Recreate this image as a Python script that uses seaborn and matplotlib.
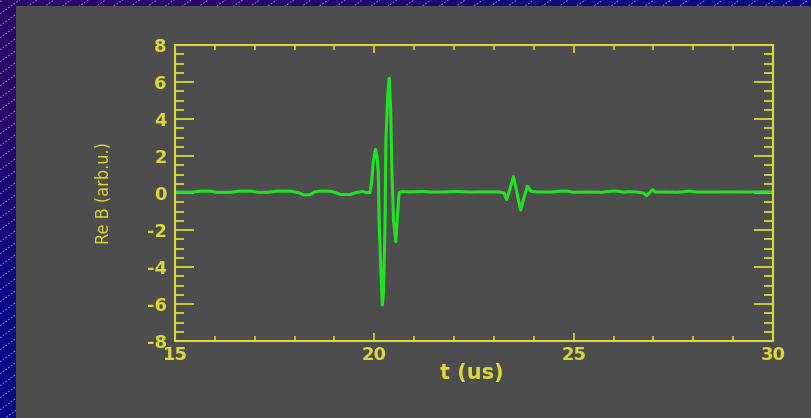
import numpy as np
import pandas as pd
import matplotlib
matplotlib.use("Agg")
import matplotlib.pyplot as plt
from matplotlib import font_manager
from matplotlib.patches import Rectangle
from matplotlib.ticker import MultipleLocator
import seaborn as sns

# Time axis (microseconds) and real part of the field (arbitrary units)
t_us = [
    15.00, 15.40, 15.65, 15.90, 16.05, 16.40, 16.60, 16.90, 17.10, 17.35,
    17.55, 17.90, 18.10, 18.22, 18.38, 18.50, 18.60, 18.90, 19.05, 19.15,
    19.40, 19.55, 19.70, 19.81, 19.89, 19.93, 19.97, 20.03, 20.07, 20.10,
    20.12, 20.16, 20.20, 20.23, 20.27, 20.29, 20.34, 20.375, 20.41, 20.44,
    20.48, 20.54, 20.58, 20.62, 20.69, 20.90, 21.20, 21.50, 21.80, 22.10,
    22.40, 22.70, 23.00, 23.15, 23.25, 23.32, 23.40, 23.49, 23.58, 23.67,
    23.76, 23.84, 23.93, 24.03, 24.40, 24.70, 24.85, 25.00, 25.40, 25.70,
    25.98, 26.10, 26.25, 26.40, 26.60, 26.75, 26.83, 26.92, 26.98, 27.05,
    27.30, 27.60, 27.90, 28.10, 28.50, 28.90, 29.30, 29.70, 30.00,
]
re_b = [
    0.05, 0.04, 0.10, 0.10, 0.03, 0.04, 0.10, 0.10, 0.03, 0.04,
    0.10, 0.10, 0.02, -0.10, -0.10, 0.05, 0.10, 0.10, 0.00, -0.08,
    -0.08, 0.03, 0.08, 0.02, 0.03, 0.52, 1.60, 2.36, 1.96, 1.06,
    -1.46, -3.98, -6.05, -5.42, -1.46, 2.86, 5.39, 6.20, 4.49, 1.24,
    -1.46, -2.63, -1.28, 0.00, 0.08, 0.06, 0.08, 0.05, 0.06, 0.08,
    0.05, 0.06, 0.06, 0.05, 0.00, -0.35, 0.20, 0.88, 0.00, -0.92,
    -0.20, 0.37, 0.10, 0.06, 0.05, 0.10, 0.10, 0.04, 0.05, 0.04,
    0.10, 0.10, 0.05, 0.07, 0.05, 0.00, -0.15, 0.05, 0.18, 0.05,
    0.05, 0.04, 0.10, 0.05, 0.05, 0.06, 0.05, 0.06, 0.06,
]
x_ticks = [15, 20, 25, 30]
y_ticks = [-8, -6, -4, -2, 0, 2, 4, 6, 8]

df = pd.DataFrame({"t": t_us, "reb": re_b})

YELLOW = "#d8d83a"
GREEN = "#22e322"
PANEL = "#4d4d4d"

sns.set_theme(style="ticks")
plt.rcParams["font.family"] = ["DejaVu Sans"]
plt.rcParams["axes.unicode_minus"] = False

W, H = 811, 418
fig = plt.figure(figsize=(W / 100, H / 100), dpi=100)

# Slide-style backdrop: purple-blue gradient with thin diagonal rules
bg = fig.add_axes([0, 0, 1, 1], zorder=-10)
bg.set_xlim(0, W)
bg.set_ylim(0, H)
bg.axis("off")
grad = np.array([
    [[42, 8, 104], [16, 10, 128]],
    [[10, 8, 132], [10, 8, 132]],
], dtype=float) / 255.0
bg.imshow(grad, extent=[0, W, 0, H], aspect="auto", interpolation="bilinear",
          origin="upper", zorder=0)
xs = np.array([0, W])
for c in np.arange(-0.7 * W, H + 12, 12):
    bg.plot(xs, 0.7 * xs + c, color="#a894ee", lw=0.7, alpha=0.75,
            ls=(0, (2.0, 1.4)), zorder=1)
bg.add_patch(Rectangle((16, 0), W - 16, H - 6, facecolor=PANEL,
                       edgecolor="none", zorder=2))

# Plot area
ax = fig.add_axes([175 / W, 77 / H, 598 / W, 296 / H])
ax.set_facecolor(PANEL)
sns.lineplot(data=df, x="t", y="reb", ax=ax, color=GREEN, lw=2.2,
             estimator=None, sort=False)

ax.set_xlim(15, 30)
ax.set_ylim(-8, 8)
ax.set_xticks(x_ticks)
ax.set_yticks(y_ticks)
ax.xaxis.set_minor_locator(MultipleLocator(1))
ax.yaxis.set_minor_locator(MultipleLocator(0.5))

for s in ax.spines.values():
    s.set_visible(True)
    s.set_color(YELLOW)
    s.set_linewidth(1.5)

ax.tick_params(axis="both", which="both", direction="in", colors=YELLOW,
               top=True, right=True, labeltop=False, labelright=False)
ax.tick_params(axis="x", which="major", length=6.0, width=1.2, pad=3.5)
ax.tick_params(axis="x", which="minor", length=3.5, width=1.2)
ax.tick_params(axis="y", which="major", length=13.5, width=1.3, pad=6.0)
ax.tick_params(axis="y", which="minor", length=6.5, width=1.3)
for lab in ax.get_xticklabels() + ax.get_yticklabels():
    lab.set_fontsize(13)
    lab.set_fontweight("bold")
    lab.set_color(YELLOW)

ax.set_xlabel("t (us)", fontsize=15, fontweight="bold", color=YELLOW)
ax.xaxis.label.set_va("center")
ax.xaxis.set_label_coords(0.497, -0.108)

# Condensed face for the vertical label when one is installed
fonts = font_manager.fontManager.ttflist
names = {f.name for f in fonts}
ylab_kw = dict(family="Liberation Sans", fontsize=13)
if "Liberation Sans Narrow" in names:
    ylab_kw = dict(family="Liberation Sans Narrow", fontsize=14)
elif any(f.name == "DejaVu Sans" and "condensed" in str(f.stretch).lower()
         for f in fonts):
    ylab_kw = dict(family="DejaVu Sans", fontstretch="condensed", fontsize=13)
ax.set_ylabel("Re B (arb.u.)", color=YELLOW, **ylab_kw)
ax.yaxis.label.set_va("center")
ax.yaxis.label.set_ha("center")
ax.yaxis.set_label_coords((104 - 175) / 598, 0.5)

fig.savefig("out.png", dpi=100)
